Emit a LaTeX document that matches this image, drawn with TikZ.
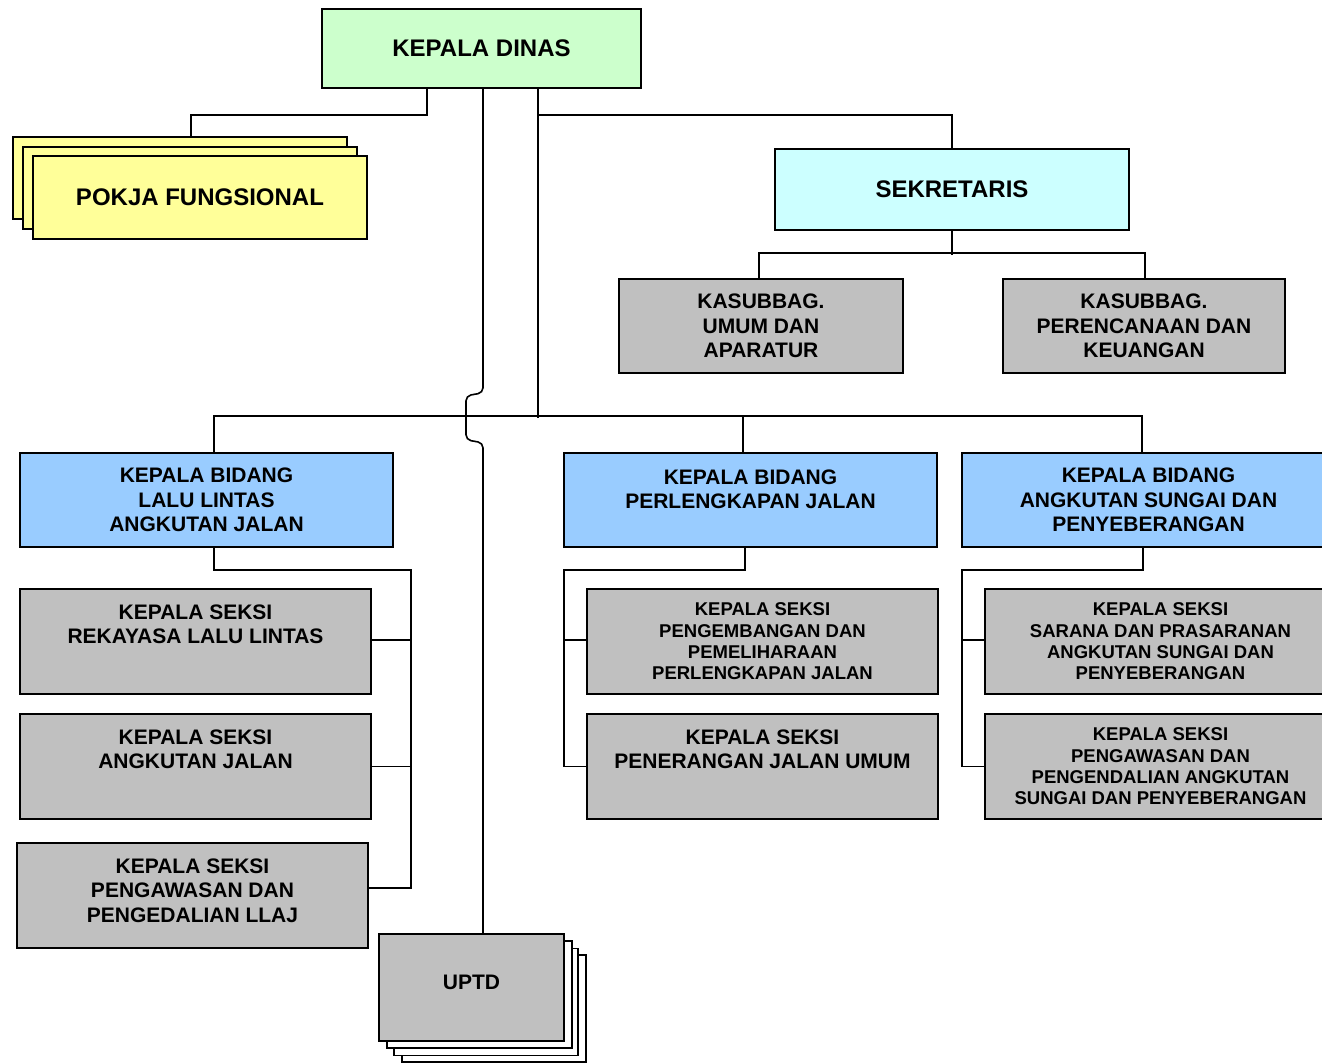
\documentclass[tikz,border=0pt]{standalone}
\usepackage{fontspec}
\setmainfont{Liberation Sans}
\usetikzlibrary{positioning}
\definecolor{dinasgreen}{HTML}{CCFFCC}
\definecolor{pokjayellow}{HTML}{FFFF99}
\definecolor{sekrcyan}{HTML}{CCFFFF}
\definecolor{bidangblue}{HTML}{99CCFF}
\definecolor{seksigray}{HTML}{C0C0C0}

\begin{document}
\begin{tikzpicture}[x=1pt, y=-1pt, line width=1.6pt,
    box/.style={draw, line width=1.6pt, inner sep=0pt, align=center},
    big/.style={font=\fontsize{24}{28}\selectfont\bfseries},
    mid/.style={font=\fontsize{21}{24.5}\selectfont\bfseries},
    small/.style={font=\fontsize{18.5}{21.3}\selectfont\bfseries},
    txt/.style={inner sep=0pt, align=center}]
    \useasboundingbox (0,0) rectangle (1322,1063);

    % top level
    \node[box, big, fill=dinasgreen, minimum width=319pt, minimum height=79pt] (dinas) at (481.5,48.5) {KEPALA DINAS};

    % pokja stack
    \node[box, fill=pokjayellow, minimum width=334pt, minimum height=82pt] (pkb) at (180,178) {};
    \node[box, fill=pokjayellow, minimum width=334pt, minimum height=82pt] (pkm) at (190,188) {};
    \node[box, big, fill=pokjayellow, minimum width=334pt, minimum height=83pt] (pokja) at (200,197.5) {POKJA FUNGSIONAL};

    % sekretariat
    \node[box, big, fill=sekrcyan, minimum width=354pt, minimum height=81pt] (sekr) at (952,189.5) {SEKRETARIS};
    \node[box, mid, fill=seksigray, minimum width=284pt, minimum height=94pt] (kasub1) at (761,326) {KASUBBAG.\\UMUM DAN\\APARATUR};
    \node[box, mid, fill=seksigray, minimum width=282pt, minimum height=94pt] (kasub2) at (1144,326) {KASUBBAG.\\PERENCANAAN DAN\\KEUANGAN};

    % bidang
    \node[box, mid, fill=bidangblue, minimum width=373pt, minimum height=94pt] (bid1) at (206.5,500) {KEPALA BIDANG\\LALU LINTAS\\ANGKUTAN JALAN};
    \node[box, fill=bidangblue, minimum width=373pt, minimum height=94pt] (bid2) at (750.5,500) {};
    \node[txt, mid, below=16.5pt of bid2.north] (tbid2) {KEPALA BIDANG\\PERLENGKAPAN JALAN};
    \node[box, mid, fill=bidangblue, minimum width=373pt, minimum height=94pt] (bid3) at (1148.5,500) {KEPALA BIDANG\\ANGKUTAN SUNGAI DAN\\PENYEBERANGAN};

    % seksi lalu lintas angkutan jalan
    \node[box, fill=seksigray, minimum width=351pt, minimum height=105pt] (s11) at (195.5,641.5) {};
    \node[txt, mid, below=15.5pt of s11.north] (ts11) {KEPALA SEKSI\\REKAYASA LALU LINTAS};
    \node[box, fill=seksigray, minimum width=351pt, minimum height=105pt] (s12) at (195.5,766.5) {};
    \node[txt, mid, below=15.5pt of s12.north] (ts12) {KEPALA SEKSI\\ANGKUTAN JALAN};
    \node[box, fill=seksigray, minimum width=351pt, minimum height=105pt] (s13) at (192.5,895.5) {};
    \node[txt, mid, below=15.5pt of s13.north] (ts13) {KEPALA SEKSI\\PENGAWASAN DAN\\PENGEDALIAN LLAJ};

    % seksi perlengkapan jalan
    \node[box, small, fill=seksigray, minimum width=351pt, minimum height=105pt] (s21) at (762.5,641.5) {KEPALA SEKSI\\PENGEMBANGAN DAN\\PEMELIHARAAN\\PERLENGKAPAN JALAN};
    \node[box, fill=seksigray, minimum width=351pt, minimum height=105pt] (s22) at (762.5,766.5) {};
    \node[txt, mid, below=15.5pt of s22.north] (ts22) {KEPALA SEKSI\\PENERANGAN JALAN UMUM};

    % seksi angkutan sungai
    \node[box, small, fill=seksigray, minimum width=351pt, minimum height=105pt] (s31) at (1160.5,641.5) {KEPALA SEKSI\\SARANA DAN PRASARANAN\\ANGKUTAN SUNGAI DAN\\PENYEBERANGAN};
    \node[box, small, fill=seksigray, minimum width=351pt, minimum height=105pt] (s32) at (1160.5,766.5) {KEPALA SEKSI\\PENGAWASAN DAN\\PENGENDALIAN ANGKUTAN\\SUNGAI DAN PENYEBERANGAN};

    % uptd stack
    \node[box, fill=white, minimum width=184pt, minimum height=107pt] (u4) at (494,1008.5) {};
    \node[box, fill=white, minimum width=184pt, minimum height=107pt] (u3) at (486,1002) {};
    \node[box, fill=white, minimum width=185pt, minimum height=107pt] (u2) at (479.5,994.5) {};
    \node[box, fill=seksigray, minimum width=185pt, minimum height=107pt] (uptd) at (471.5,987.5) {};
    \node[txt, mid] (tuptd) at (471.5,982) {UPTD};

    % connectors
    \draw ([xshift=-54.5pt]dinas.south) -- ++(0,26) -| ([xshift=11pt]pkb.north);
    \draw ([xshift=56.5pt]dinas.south) -- ++(0,26) -| (sekr.north);
    \draw ([xshift=56.5pt]dinas.south) -- ++(0,329);
    \draw[rounded corners=5pt] ([xshift=1.5pt]dinas.south) -- ++(0,304) -- ++(-17,3) -- ++(0,44) -- ++(17,3) -- ([xshift=11.5pt]uptd.north);
    \draw (sekr.south) -- ++(0,24);
    \draw ([xshift=-2pt]kasub1.north) -- ++(0,-25) -| ([xshift=1pt]kasub2.north);
    \draw ([xshift=7.5pt]bid1.north) -- ++(0,-36) -| ([xshift=-6.5pt]bid3.north);
    \draw ([xshift=-7.5pt]bid2.north) -- ++(0,-36);

    \draw ([xshift=7.5pt]bid1.south) -- ++(0,22) -- ++(197,0) |- ([yshift=7.5pt]s13.east);
    \draw ([yshift=1.5pt]s11.east) -- ++(40,0);
    \draw (s12.east) -- ++(40,0);
    \draw ([xshift=-5.5pt]bid2.south) -- ++(0,22) -- ++(-181,0) |- (s22.west);
    \draw ([yshift=1.5pt]s21.west) -- ++(-23,0);
    \draw ([xshift=-5.5pt]bid3.south) -- ++(0,22) -- ++(-181,0) |- (s32.west);
    \draw ([yshift=1.5pt]s31.west) -- ++(-23,0);
\end{tikzpicture}
\end{document}
